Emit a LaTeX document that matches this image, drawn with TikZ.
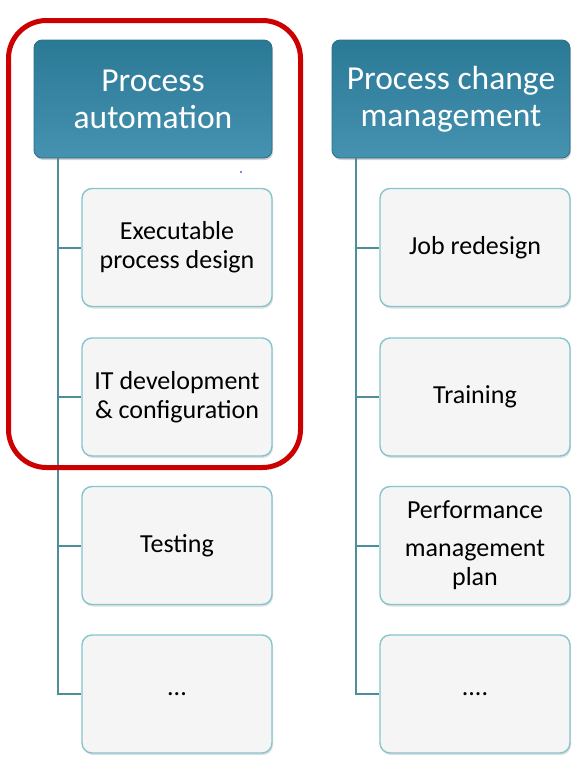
\documentclass[tikz,border=0pt]{standalone}
\usepackage{fontspec}
\setmainfont{Carlito}
\usetikzlibrary{shadows}
\definecolor{headtop}{HTML}{2A7995}
\definecolor{headbot}{HTML}{4592B1}
\definecolor{headline}{HTML}{2C6E86}
\definecolor{childline}{HTML}{86C5CD}
\definecolor{childfill}{HTML}{F5F5F5}
\definecolor{treeline}{HTML}{4E8E98}
\definecolor{markred}{HTML}{CC0000}
\begin{document}
\begin{tikzpicture}[x=1pt, y=-1pt,
  head/.style={rectangle, rounded corners=8pt, draw=headline, line width=0.8pt,
    top color=headtop, bottom color=headbot, text=white,
    minimum width=238pt, minimum height=118pt, inner sep=0pt,
    font=\fontsize{33.5}{37}\selectfont, align=center,
    drop shadow={opacity=0.35, shadow xshift=1pt, shadow yshift=-2pt}},
  child/.style={rectangle, rounded corners=10pt, draw=childline, line width=1.4pt,
    fill=childfill, text=black,
    minimum width=190pt, minimum height=118pt, inner sep=0pt,
    font=\fontsize{26}{29}\selectfont, align=center,
    drop shadow={opacity=0.25, shadow xshift=1pt, shadow yshift=-2pt}},
  branch/.style={draw=treeline, line width=2pt}]

\useasboundingbox (0,0) rectangle (580,761);

% Processus automatisation
\node[head] (auto) at (153,99) {Process\\automation};
\node[child] (design) at (177,247.5) {Executable\\process design};
\node[child] (itdev) at (177,397) {IT development\\\& configuration};
\node[child] (test) at (177,545.5) {Testing};
\node[child] (autodots) at (177,694) {...};

% Gestion du changement
\node[head] (change) at (451,99) {Process change\\management};
\node[child] (job) at (475,247.5) {Job redesign};
\node[child] (train) at (475,397) {Training};
\node[child] (perf) at (475,545.5) {Performance\\[9pt]management\\plan};
\node[child] (changedots) at (475,694) {....};

% Branches
\foreach \c in {design,itdev,test,autodots} {
    \draw[branch] ([xshift=24pt]auto.south west) |- (\c.west);
}
\foreach \c in {job,train,perf,changedots} {
    \draw[branch] ([xshift=24pt]change.south west) |- (\c.west);
}

% Cadre rouge
\draw[markred, line width=5pt, rounded corners=38pt] (8.5,20.5) rectangle (300.5,467.5);
\fill[blue] (241,172) circle (0.8);

\end{tikzpicture}
\end{document}
